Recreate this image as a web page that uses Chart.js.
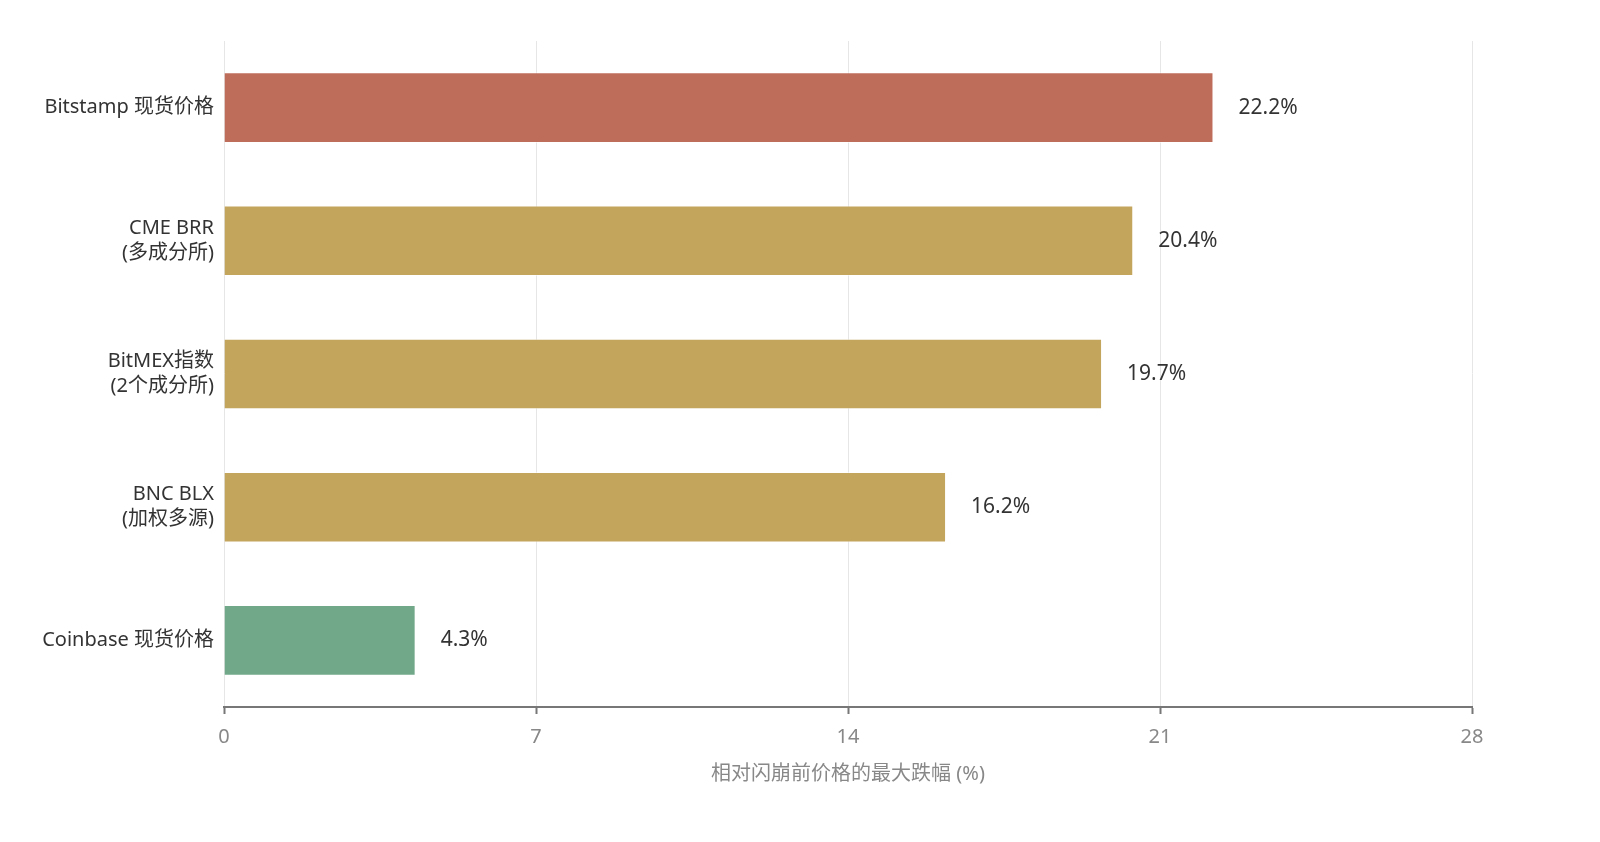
<!DOCTYPE html>
<html>
<head>
<meta charset="utf-8">
<script src="https://cdn.jsdelivr.net/npm/chart.js@4"></script>
<style>
  html, body { margin: 0; padding: 0; background: #fff; }
  #wrap { width: 1600px; height: 842px; }
</style>
</head>
<body>
<div id="wrap"><canvas id="barChart"></canvas></div>
<script>
const categories = [
  ['Bitstamp 现货价格'],
  ['CME BRR', '(多成分所)'],
  ['BitMEX指数', '(2个成分所)'],
  ['BNC BLX', '(加权多源)'],
  ['Coinbase 现货价格']
];
const drops = [22.2, 20.4, 19.7, 16.2, 4.3];
const barColors = ['#BF6D5B', '#C4A55C', '#C4A55C', '#C4A55C', '#72A88A'];
const xTicks = [0, 7, 14, 21, 28];
const xTitle = '相对闪崩前价格的最大跌幅 (%)';

const fontFamily = "'Noto Sans', 'Noto Sans CJK SC', sans-serif";

// value labels at the end of each bar
const valueLabels = {
  id: 'valueLabels',
  afterDatasetsDraw(chart) {
    const ctx = chart.ctx;
    const meta = chart.getDatasetMeta(0);
    ctx.save();
    ctx.font = '21px ' + fontFamily;
    ctx.fillStyle = '#333';
    ctx.textAlign = 'left';
    ctx.textBaseline = 'middle';
    meta.data.forEach((bar, i) => {
      ctx.fillText(drops[i].toFixed(1) + '%', bar.x + 25, bar.y);
    });
    ctx.restore();
  }
};

const ctx = document.getElementById('barChart').getContext('2d');
new Chart(ctx, {
  type: 'bar',
  data: {
    labels: categories,
    datasets: [{
      data: drops,
      backgroundColor: barColors,
      borderColor: 'rgba(255,255,255,0.5)',
      borderWidth: 1,
      categoryPercentage: 1,
      barPercentage: 0.53
    }]
  },
  options: {
    indexAxis: 'y',
    responsive: true,
    maintainAspectRatio: false,
    animation: false,
    layout: { padding: { top: 41, right: 128, left: 0, bottom: 0 } },
    plugins: {
      legend: { display: false },
      tooltip: { enabled: false }
    },
    scales: {
      x: {
        min: 0,
        max: 28,
        afterBuildTicks: (scale) => {
          scale.ticks = xTicks.map(v => ({ value: v }));
        },
        afterFit: (scale) => { scale.height = 135; },
        grid: {
          color: '#e6e6e6',
          lineWidth: 1,
          drawTicks: true,
          tickLength: 7,
          tickColor: '#777',
          tickWidth: 2
        },
        border: { display: true, color: '#777', width: 2 },
        ticks: {
          padding: 11,
          color: '#888',
          font: { family: fontFamily, size: 20 }
        },
        title: {
          display: true,
          text: xTitle,
          color: '#888',
          padding: { top: 10, bottom: 56 },
          font: { family: fontFamily, size: 20 }
        }
      },
      y: {
        afterFit: (scale) => { scale.width = 224; },
        grid: { display: false, drawTicks: false },
        border: { display: false },
        ticks: {
          padding: 10,
          color: '#333',
          font: { family: fontFamily, size: 20, lineHeight: 1.25 }
        }
      }
    }
  },
  plugins: [valueLabels]
});
</script>
</body>
</html>
